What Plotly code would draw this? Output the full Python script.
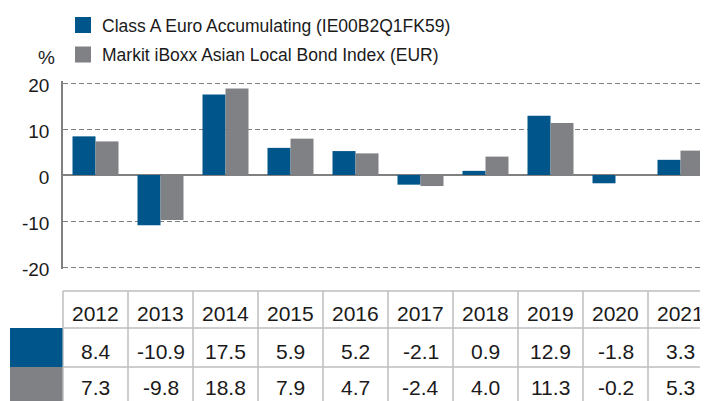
import plotly.graph_objects as go

years = ["2012", "2013", "2014", "2015", "2016", "2017", "2018", "2019", "2020", "2021"]
series_names = ["Class A Euro Accumulating (IE00B2Q1FK59)",
                "Markit iBoxx Asian Local Bond Index (EUR)"]
fund = [8.4, -10.9, 17.5, 5.9, 5.2, -2.1, 0.9, 12.9, -1.8, 3.3]
index = [7.3, -9.8, 18.8, 7.9, 4.7, -2.4, 4.0, 11.3, -0.2, 5.3]
y_ticks = [20, 10, 0, -10, -20]

BLUE = "#00568A"
GREY = "#808185"
colors = [BLUE, GREY]
values = [fund, index]

OFF = 8  # page body margin
W, H = 700, 393
L, R, T, B = 55, 0, 73, 132
PW = W - L - R
PH = H - T - B
CAT_W = 65.0
xr = [-0.5, -0.5 + PW / CAT_W]
half = (PH / 2) / 4.6
yr_ = [-half, half]

def px(xwin):
    return (xwin - OFF - L) / PW

def py(ywin):
    return (T + PH - (ywin - OFF)) / PH

def catx(i):
    return (i - xr[0]) / (xr[1] - xr[0])

FONT = "Liberation Sans, Arial, sans-serif"
TXT = "#1a1a1a"
LINE = "#BEBEBE"

fig = go.Figure()
for name, vals, c in zip(series_names, values, colors):
    fig.add_trace(go.Bar(x=years, y=vals, name=name, marker_color=c,
                         marker_line_width=0, showlegend=False))

shapes = []
annotations = []

# legend (manual)
leg_y = [25, 54.5]
for k, (name, c) in enumerate(zip(series_names, colors)):
    shapes.append(dict(type="rect", xref="paper", yref="paper",
                       x0=px(75), x1=px(91), y0=py(leg_y[k] + 8), y1=py(leg_y[k] - 8),
                       fillcolor=c, line_width=0))
    annotations.append(dict(xref="paper", yref="paper", x=px(100), y=py(leg_y[k] + 1),
                            text=name, showarrow=False, xanchor="left", yanchor="middle",
                            font=dict(size=17.5, color=TXT, family=FONT)))

annotations.append(dict(xref="paper", yref="paper", x=px(46), y=py(57), text="%",
                        showarrow=False, xanchor="center", yanchor="middle",
                        font=dict(size=19, color=TXT, family=FONT)))

# table
t_top, t_h1, t_h2, t_bot = 291, 328, 367, 402
n = len(years)
for ypix in [t_top, t_h1, t_h2]:
    shapes.append(dict(type="line", xref="paper", yref="paper",
                       x0=px(63), x1=1, y0=py(ypix), y1=py(ypix),
                       line=dict(color=LINE, width=1.5)))
for i in range(n + 1):
    xx = catx(i - 0.5)
    if xx <= 1.0:
        shapes.append(dict(type="line", xref="paper", yref="paper",
                           x0=xx, x1=xx, y0=py(t_top), y1=py(t_bot),
                           line=dict(color=LINE, width=1.5)))
# row colour patches
for k, (ya, yb) in enumerate([(t_h1, t_h2), (t_h2, t_bot)]):
    shapes.append(dict(type="rect", xref="paper", yref="paper",
                       x0=px(10), x1=px(62.5), y0=py(yb), y1=py(ya),
                       fillcolor=colors[k], line_width=0))

row_centers = [313.5, 351, 387]
for i, yr in enumerate(years):
    cells = [yr, f"{fund[i]:.1f}", f"{index[i]:.1f}"]
    for r, txt in enumerate(cells):
        annotations.append(dict(xref="paper", yref="paper", x=catx(i), y=py(row_centers[r]),
                                text=txt, showarrow=False, xanchor="center", yanchor="middle",
                                font=dict(size=21, color=TXT, family=FONT)))

fig.update_layout(
    width=W, height=H,
    margin=dict(l=L, r=R, t=T, b=B, pad=0),
    paper_bgcolor="white", plot_bgcolor="white",
    barmode="group", bargap=19 / 65, bargroupgap=0,
    showlegend=False,
    font=dict(family=FONT, color=TXT),
    shapes=shapes, annotations=annotations,
)
fig.update_xaxes(range=xr, showticklabels=False, showgrid=False, zeroline=False,
                 showline=False, ticks="")
fig.update_yaxes(range=yr_, tickvals=y_ticks, ticktext=[str(v) for v in y_ticks],
                 showgrid=True, gridcolor="#808080", gridwidth=1, griddash="5px,3px",
                 zeroline=True, zerolinecolor="#808080", zerolinewidth=1.5,
                 showline=True, linecolor="#808080", linewidth=1.5,
                 ticks="", ticklabelstandoff=8, ticklabelshift=2,
                 tickfont=dict(size=19, color=TXT, family=FONT))

fig.write_html("out.html")
